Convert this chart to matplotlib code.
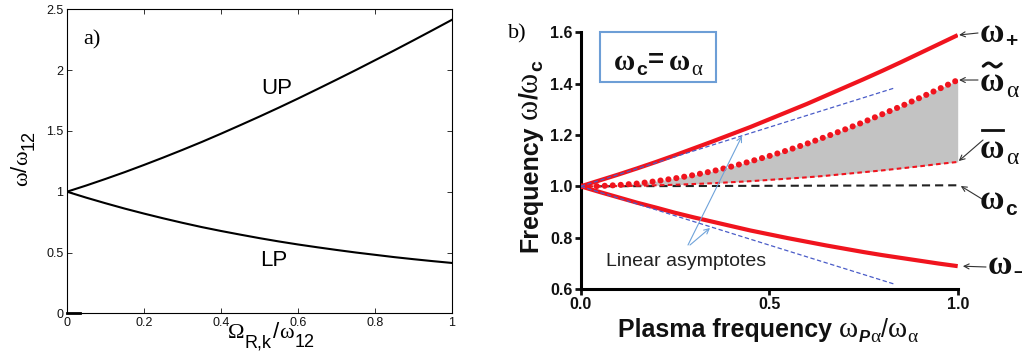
import math
import matplotlib
matplotlib.use("Agg")
import matplotlib.pyplot as plt
from matplotlib.patches import Rectangle, FancyArrowPatch
from matplotlib.lines import Line2D

plt.rcParams['font.family'] = ['Liberation Sans', 'DejaVu Sans']

# ---------------- data: panel a ----------------
a_x = [0.00, 0.05, 0.10, 0.15, 0.20, 0.25, 0.30, 0.35, 0.40, 0.45, 0.50,
       0.55, 0.60, 0.65, 0.70, 0.75, 0.80, 0.85, 0.90, 0.95, 1.00]
a_up = [1.000, 1.051, 1.105, 1.161, 1.220, 1.281, 1.344, 1.409, 1.477, 1.547, 1.618,
        1.691, 1.766, 1.843, 1.921, 2.000, 2.081, 2.162, 2.245, 2.329, 2.414]
a_lp = [1.000, 0.951, 0.905, 0.861, 0.820, 0.781, 0.744, 0.709, 0.677, 0.647, 0.618,
        0.591, 0.566, 0.543, 0.521, 0.500, 0.481, 0.462, 0.445, 0.429, 0.414]
a_stub_x = [0.0, 0.034]
a_stub_y = [0.0, 0.0]
a_xticks = [0, 0.2, 0.4, 0.6, 0.8, 1]
a_xticklabels = ['0', '0.2', '0.4', '0.6', '0.8', '1']
a_yticks = [0, 0.5, 1, 1.5, 2, 2.5]
a_yticklabels = ['0', '0.5', '1', '1.5', '2', '2.5']

# ---------------- data: panel b ----------------
b_x = [0.00, 0.05, 0.10, 0.15, 0.20, 0.25, 0.30, 0.35, 0.40, 0.45, 0.50,
       0.55, 0.60, 0.65, 0.70, 0.75, 0.80, 0.85, 0.90, 0.95, 1.00]
w_plus = [1.000, 1.023, 1.046, 1.070, 1.095, 1.121, 1.148, 1.175, 1.203, 1.231, 1.261,
          1.291, 1.321, 1.353, 1.385, 1.417, 1.450, 1.484, 1.519, 1.554, 1.589]
w_minus = [1.000, 0.978, 0.957, 0.936, 0.917, 0.897, 0.879, 0.862, 0.845, 0.828, 0.813,
           0.798, 0.784, 0.770, 0.757, 0.744, 0.732, 0.721, 0.710, 0.699, 0.689]
w_tilde = [1.000, 1.001, 1.005, 1.011, 1.020, 1.031, 1.044, 1.059, 1.077, 1.097, 1.118,
           1.141, 1.166, 1.193, 1.221, 1.250, 1.281, 1.312, 1.345, 1.379, 1.414]
w_bar = [1.000, 1.000, 1.001, 1.002, 1.004, 1.006, 1.009, 1.012, 1.016, 1.020, 1.025,
         1.030, 1.035, 1.041, 1.048, 1.055, 1.062, 1.070, 1.078, 1.087, 1.095]
wc_x = [0.0, 1.0]
wc_y = [1.0, 1.004]
asym_x = [0.0, 0.83]
asym_up = [1.0, 1.382]
asym_lo = [1.0, 0.620]
b_xticks = [0.0, 0.5, 1.0]
b_xticklabels = ['0.0', '0.5', '1.0']
b_yticks = [0.6, 0.8, 1.0, 1.2, 1.4, 1.6]
b_yticklabels = ['0.6', '0.8', '1.0', '1.2', '1.4', '1.6']

W, H = 1022, 356
fig = plt.figure(figsize=(W / 100, H / 100), dpi=100)
renderer = fig.canvas.get_renderer()

SERIF = 'Liberation Serif'
SANS = 'Liberation Sans'
INK = '#111111'


def fx(px):
    return px / W


def fy(py):
    return 1 - py / H


def compose(x, y, pieces, rotation=0, align='center'):
    """Lay out text pieces along a baseline. (x, y) in image pixels (top-left origin).
    pieces: (text, kwargs, dy) with dy in px (positive = up); text None -> gap of dy px."""
    th = math.radians(rotation)
    ux, uy = math.cos(th), math.sin(th)
    nx, ny = -math.sin(th), math.cos(th)
    widths = []
    for s, kw, dy in pieces:
        if s is None:
            widths.append(dy)
            continue
        t = fig.text(0, 0, s, **kw)
        widths.append(t.get_window_extent(renderer).width)
        t.remove()
    total = sum(widths)
    adv = -total / 2 if align == 'center' else 0
    X0, Y0 = x, H - y
    spans = []
    for (s, kw, dy), w in zip(pieces, widths):
        if s is not None:
            px = X0 + adv * ux + dy * nx
            py = Y0 + adv * uy + dy * ny
            fig.text(px / W, py / H, s, rotation=rotation, rotation_mode='anchor',
                     ha='left', va='baseline', **kw)
            spans.append((X0 + adv * ux, w))
        adv += w
    return spans


# ================= panel a =================
axa = fig.add_axes([fx(67), fy(313.3), (452 - 67) / W, (313.3 - 9.3) / H])
axa.plot(a_x, a_up, color='black', lw=1.5)
axa.plot(a_x, a_lp, color='black', lw=1.5)
axa.plot(a_stub_x, a_stub_y, color='black', lw=2.0, clip_on=False)
axa.set_xlim(0, 1)
axa.set_ylim(0, 2.5)
axa.set_xticks(a_xticks)
axa.set_xticklabels(a_xticklabels)
axa.set_yticks(a_yticks)
axa.set_yticklabels(a_yticklabels)
axa.tick_params(direction='in', top=True, right=True, length=3.5, width=0.6,
                labelsize=9, pad=2.5, colors=INK)
for s in axa.spines.values():
    s.set_linewidth(0.8)
fig.text(fx(277), fy(88), 'UP', fontsize=16, ha='center', va='center')
fig.text(fx(274), fy(260), 'LP', fontsize=16, ha='center', va='center')
fig.text(fx(92), fy(40), 'a)', fontsize=16, ha='center', va='center', family=SERIF)

ser16 = dict(fontsize=16, family=SERIF)
san16 = dict(fontsize=16, family=SANS)
san13 = dict(fontsize=13, family=SANS)
compose(27, 158, [('ω', ser16, 0), ('/', san16, 0), ('ω', ser16, 0), (None, None, 1),
                  ('12', san13, -7)], rotation=90)
compose(271, 338, [('Ω', dict(fontsize=16, family=SERIF), 0), (None, None, 1),
                   ('R,k', dict(fontsize=13, family=SANS), -9), (None, None, 1),
                   ('/', dict(fontsize=16, family=SANS), 0),
                   ('ω', dict(fontsize=16, family=SERIF), 0), (None, None, 1),
                   ('12', dict(fontsize=13, family=SANS), -9)])

# ================= panel b =================
axb = fig.add_axes([fx(580.7), fy(289), 377 / W, 256.7 / H])
red = '#f0141e'
axb.fill_between(b_x, w_bar, w_tilde, color='#c3c3c3', lw=0, zorder=1)
axb.plot(wc_x, wc_y, color='#222222', lw=1.5, dashes=(3.9, 2.4), zorder=2)
axb.plot(b_x, w_plus, color=red, lw=3.0, zorder=3, solid_capstyle='butt')
axb.plot(b_x, w_minus, color=red, lw=3.0, zorder=3, solid_capstyle='butt')
axb.plot(b_x, w_bar, color=red, lw=1.5, dashes=(2.2, 1.6), zorder=3)
axb.plot(b_x, w_tilde, color=red, lw=4.4, linestyle=(0, (0.01, 1.3)),
         dash_capstyle='round', zorder=4)
axb.plot(asym_x, asym_up, color='#4a5cc8', lw=0.9, dashes=(3.5, 2), zorder=4)
axb.plot(asym_x, asym_lo, color='#4a5cc8', lw=0.9, dashes=(3.5, 2), zorder=4)

axb.set_xlim(0, 1.0)
axb.set_ylim(0.6, 1.6)
axb.spines['top'].set_visible(False)
axb.spines['right'].set_visible(False)
for s in ('left', 'bottom'):
    axb.spines[s].set_linewidth(2.2)
axb.set_xticks(b_xticks)
axb.set_xticklabels(b_xticklabels)
axb.set_yticks(b_yticks)
axb.set_yticklabels(b_yticklabels)
axb.tick_params(direction='out', length=4, width=2, labelsize=11.5, pad=2, colors=INK)
for lab in axb.get_xticklabels() + axb.get_yticklabels():
    lab.set_fontweight('bold')

bold18 = dict(fontsize=18, family=SANS, fontweight='bold', color=INK)
om21 = dict(fontsize=22, family=SERIF, color=INK)
sub_b = dict(fontsize=14, family=SANS, fontweight='bold', color=INK)
compose(537, 156, [('Frequency', bold18, 0), (None, None, 6), ('ω', om21, 0),
                   ('/', bold18, 0), ('ω', om21, 0), (None, None, 1), ('c', sub_b, -5)],
        rotation=90)
compose(768, 337, [('Plasma frequency', dict(fontsize=18, family=SANS, fontweight='bold',
                                              color=INK), 0),
                   (None, None, 7), ('ω', dict(fontsize=21, family=SERIF, color=INK), 0),
                   (None, None, 1),
                   ('P', dict(fontsize=12, family=SANS, fontweight='bold', style='italic',
                              color=INK), -5),
                   ('α', dict(fontsize=14, family=SERIF, color=INK), -5),
                   ('/', dict(fontsize=18, family=SANS, color=INK), 0),
                   ('ω', dict(fontsize=21, family=SERIF, color=INK), 0), (None, None, 1),
                   ('α', dict(fontsize=14, family=SERIF, color=INK), -5)])
fig.text(fx(517), fy(34), 'b)', fontsize=16, ha='center', va='center', family=SERIF)

# box with omega_c = omega_alpha
fig.patches.append(Rectangle((fx(600), fy(82.3)), (716 - 600) / W, (82.3 - 32.3) / H,
                             transform=fig.transFigure, fill=False,
                             edgecolor='#6d9ed6', lw=1.5))
omb = dict(fontsize=21, family=SERIF, fontweight='bold', color=INK)
compose(658, 70, [('ω', omb, 0), (None, None, 1),
                  ('c', dict(fontsize=14, family=SANS, fontweight='bold', color=INK), -5),
                  ('=', dict(fontsize=20, family=SANS, fontweight='bold', color=INK), 2),
                  (None, None, 5), ('ω', omb, 0), (None, None, 1),
                  ('α', dict(fontsize=15, family=SERIF, color=INK), -5)])

# right-hand labels
omr = dict(fontsize=24, family=SERIF, fontweight='bold', color=INK)
subr = dict(fontsize=15, family=SANS, fontweight='bold', color=INK)
alr = dict(fontsize=17, family=SERIF, color=INK)
compose(980, 42, [('ω', omr, 0), (None, None, 1), ('+', subr, -5)], align='left')
sp = compose(980, 91, [('ω', omr, 0), (None, None, 2), ('α', alr, -6)], align='left')
# tilde accent drawn as a small wave (hump left, dip right)
cx = sp[0][0] + sp[0][1] / 2
tx = [cx - 9 + 18 * i / 16 for i in range(17)]
ty = [H - 65 + 2.0 * math.sin(2 * math.pi * (i / 16 * 1.2 - 0.1)) for i in range(17)]
fig.add_artist(Line2D(tx, ty, transform=None, color=INK, lw=2.2, solid_capstyle='round'))
sp = compose(980, 158, [('ω', omr, 0), (None, None, 2), ('α', alr, -6)], align='left')
fig.add_artist(Line2D([sp[0][0] + 2, sp[0][0] + sp[0][1] - 2], [H - 130, H - 130],
                      transform=None, color=INK, lw=2.0))
compose(980, 209, [('ω', omr, 0), (None, None, 1), ('c', subr, -6)], align='left')
compose(988, 274, [('ω', omr, 0), (None, None, 1),
                   ('−', dict(fontsize=12, family=SANS, fontweight='bold', color=INK), -4)],
        align='left')

arrow_kw = dict(arrowstyle='->', color='#333333', lw=0.8, shrinkA=0, shrinkB=1,
                mutation_scale=9)
axb.annotate('', xy=(1.0, w_plus[-1]), xycoords='data',
             xytext=(978, H - 33), textcoords='figure pixels',
             arrowprops=arrow_kw, annotation_clip=False)
axb.annotate('', xy=(1.0, w_tilde[-1]), xycoords='data',
             xytext=(978, H - 80), textcoords='figure pixels',
             arrowprops=arrow_kw, annotation_clip=False)
axb.annotate('', xy=(1.0, w_bar[-1]), xycoords='data',
             xytext=(983, H - 140), textcoords='figure pixels',
             arrowprops=arrow_kw, annotation_clip=False)
axb.annotate('', xy=(1.005, wc_y[-1]), xycoords='data',
             xytext=(982, H - 199), textcoords='figure pixels',
             arrowprops=arrow_kw, annotation_clip=False)
axb.annotate('', xy=(1.01, w_minus[-1]), xycoords='data',
             xytext=(986, H - 267), textcoords='figure pixels',
             arrowprops=arrow_kw, annotation_clip=False)

# linear asymptote annotation
fig.text(fx(686), fy(262), 'Linear asymptotes', fontsize=14, color='#222222',
         ha='center', va='center')
blue_arrow = dict(arrowstyle='->', color='#6fa3da', lw=0.8, shrinkA=0, shrinkB=0,
                  mutation_scale=9)
fig.add_artist(FancyArrowPatch((688, H - 245), (742, H - 136), transform=None, **blue_arrow))
fig.add_artist(FancyArrowPatch((690, H - 245), (710, H - 228), transform=None, **blue_arrow))

fig.savefig('out.png', dpi=100)
